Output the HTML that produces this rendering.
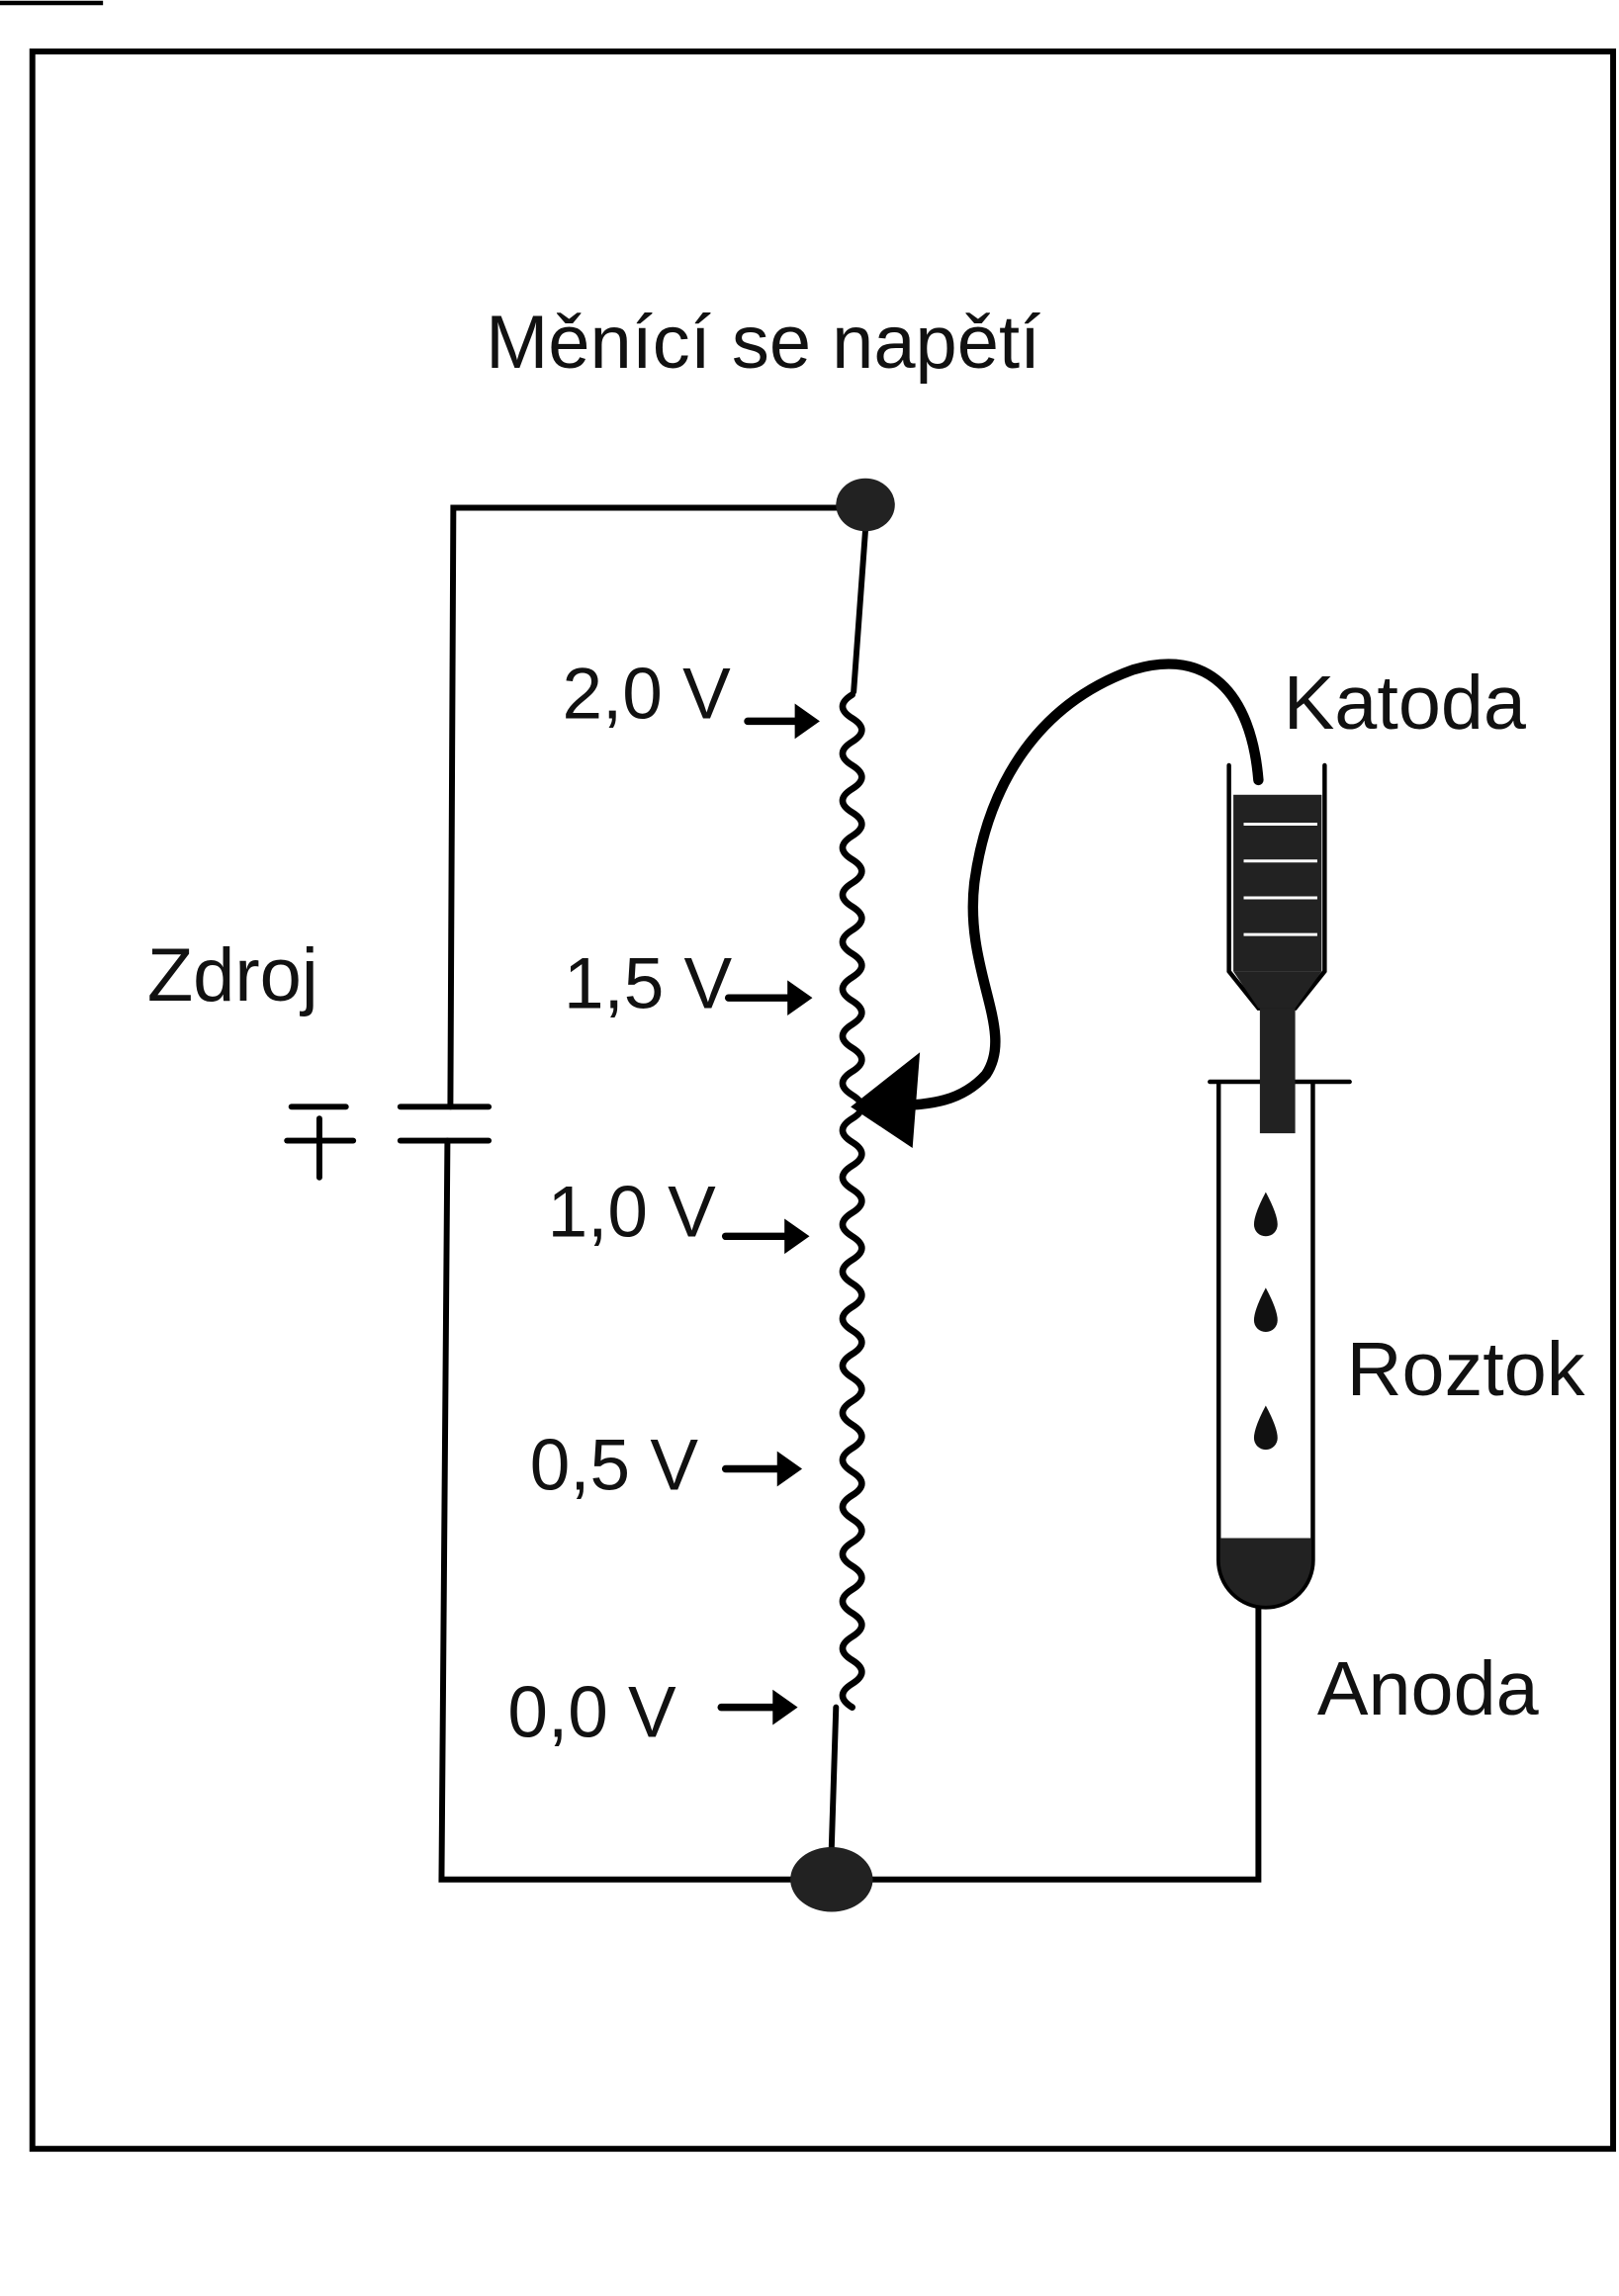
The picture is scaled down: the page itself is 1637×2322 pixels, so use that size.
<!DOCTYPE html>
<html><head><meta charset="utf-8"><style>
html,body{margin:0;padding:0;background:#fff;}
svg{display:block;}
text{font-family:"Liberation Sans","DejaVu Sans",sans-serif;fill:#111;}
</style></head><body>
<svg width="1637" height="2322" viewBox="0 0 1100 1560" preserveAspectRatio="none" xmlns="http://www.w3.org/2000/svg">
<rect width="1100" height="1560" fill="#fff"/>
<line x1="0" y1="2" x2="70" y2="2" stroke="#000" stroke-width="3"/>
<rect x="22" y="35" width="1074" height="1425" fill="none" stroke="#000" stroke-width="4"/>
<text x="330" y="250" font-size="51">Měnící se napětí</text>
<g stroke="#000" stroke-width="4" fill="none" stroke-linecap="round">
<polyline points="590,345 308,345 306,752"/>
<polyline points="304,775 300,1277 855,1277 855,1080"/>
<line x1="272" y1="752" x2="332" y2="752"/>
<line x1="272" y1="775" x2="332" y2="775"/>
<polyline points="588,360 580,470"/>
<path d="M579,472 q-13,8 0,16 q13,8 0,16 q-13,8 0,16 q13,8 0,16 q-13,8 0,16 q13,8 0,16 q-13,8 0,16 q13,8 0,16 q-13,8 0,16 q13,8 0,16 q-13,8 0,16 q13,8 0,16 q-13,8 0,16 q13,8 0,16 q-13,8 0,16 q13,8 0,16 q-13,8 0,16 q13,8 0,16 q-13,8 0,16 q13,8 0,16 q-13,8 0,16 q13,8 0,16 q-13,8 0,16 q13,8 0,16 q-13,8 0,16 q13,8 0,16 q-13,8 0,16 q13,8 0,16 q-13,8 0,16 q13,8 0,16 q-13,8 0,16 q13,8 0,16 q-13,8 0,16 q13,8 0,16 q-13,8 0,16 q13,8 0,16 q-13,8 0,16 q13,8 0,16 q-13,8 0,16 q13,8 0,16 q-13,8 0,16 q13,8 0,16 q-13,8 0,16" stroke-width="4.5"/>
<line x1="568" y1="1160" x2="565" y2="1255"/>
<g stroke-width="5">
<path d="M508,490 h38"/>
<path d="M495,678 h40"/>
<path d="M493,840 h40"/>
<path d="M493,998 h35"/>
<path d="M490,1160 h35"/>
</g>
<path d="M855,530 C850,470 820,440 770,455 C700,480 670,540 662,600 C655,660 690,700 670,730 C650,752 625,750 600,752" stroke-width="7"/>
<line x1="198" y1="752" x2="235" y2="752"/>
<line x1="195" y1="775" x2="240" y2="775"/>
<line x1="217" y1="760" x2="217" y2="800"/>
<path d="M822,735 h95 M828,735 v325 a32,32 0 0 0 64,0 v-325" stroke-width="3"/>
<path d="M835,520 v140 l20,25 h25 l20,-25 v-140" stroke-width="3"/>
</g>
<g fill="#000">
<polygon points="557,490 540,478 540,502"/>
<polygon points="552,678 535,666 535,690"/>
<polygon points="550,840 533,828 533,852"/>
<polygon points="545,998 528,986 528,1010"/>
<polygon points="542,1160 525,1148 525,1172"/>
</g>
<polygon points="578,752 625,715 620,780" fill="#000"/>
<ellipse cx="588" cy="343" rx="20" ry="18" fill="#222"/>
<ellipse cx="565" cy="1277" rx="28" ry="22" fill="#222"/>
<rect x="838" y="540" width="60" height="120" fill="#222"/>
<g stroke="#fff" stroke-width="2">
<line x1="845" y1="560" x2="895" y2="560"/><line x1="845" y1="585" x2="895" y2="585"/><line x1="845" y1="610" x2="895" y2="610"/><line x1="845" y1="635" x2="895" y2="635"/>
</g>
<polygon points="838,660 898,660 880,685 855,685" fill="#222"/>
<rect x="856" y="685" width="24" height="85" fill="#222"/>
<path d="M829,1045 h62 v15 a31,31 0 0 1 -62,0 z" fill="#222"/>
<path d="M860,810 q-8,15 -8,22 a8,8 0 0 0 16,0 q0,-7 -8,-22z" fill="#111"/>
<path d="M860,875 q-8,15 -8,22 a8,8 0 0 0 16,0 q0,-7 -8,-22z" fill="#111"/>
<path d="M860,955 q-8,15 -8,22 a8,8 0 0 0 16,0 q0,-7 -8,-22z" fill="#111"/>
<text x="382" y="488" font-size="49">2,0 V</text>
<text x="383" y="685" font-size="49">1,5 V</text>
<text x="372" y="840" font-size="49">1,0 V</text>
<text x="360" y="1012" font-size="49">0,5 V</text>
<text x="345" y="1180" font-size="49">0,0 V</text>
<text x="100" y="680" font-size="51">Zdroj</text>
<text x="872" y="495" font-size="52">Katoda</text>
<text x="915" y="948" font-size="52">Roztok</text>
<text x="895" y="1165" font-size="52">Anoda</text>
</svg>
</body></html>
